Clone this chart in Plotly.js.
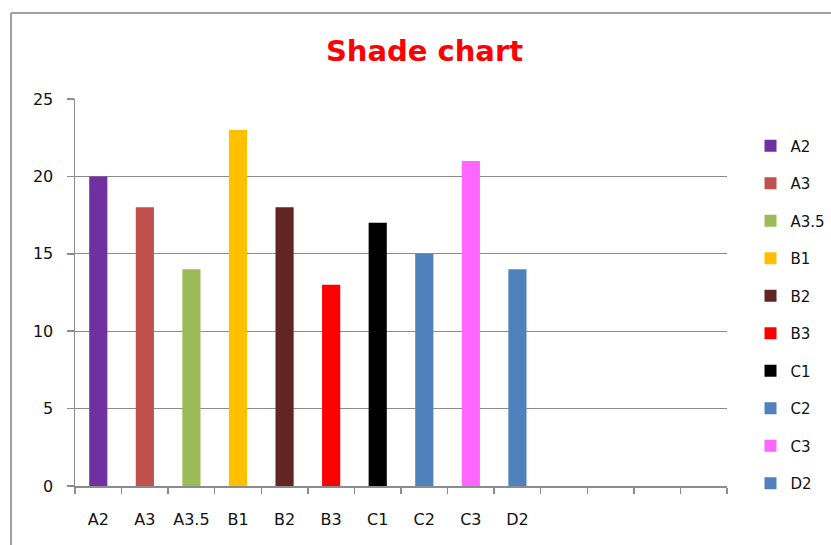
<!DOCTYPE html>
<html>
<head>
<meta charset="utf-8">
<script src="https://cdn.plot.ly/plotly-3.0.1.min.js"></script>
<style>html,body{margin:0;padding:0;background:#fff;}#chart{width:831px;height:545px;}</style>
</head>
<body>
<div id="chart"></div>
<script>
var categories = ["A2","A3","A3.5","B1","B2","B3","C1","C2","C3","D2"];
var values = [20,18,14,23,18,13,17,15,21,14];
var colors = ["#7030A0","#C0504D","#9BBB59","#FFC000","#632523","#FF0000","#000000","#4F81BD","#FF66FF","#4F81BD"];
var slotCount = 14;
var yTicks = [0,5,10,15,20,25];

var traces = categories.map(function(c, i){
  return {
    type: "bar",
    x: [i],
    y: [values[i]],
    name: c,
    legendgroup: "g" + i,
    width: 0.39,
    marker: {color: colors[i], line: {width: 0}},
    xaxis: "x",
    yaxis: "y",
    hoverinfo: "name+y"
  };
});
// invisible trace to carry category labels axis
traces.push({type: "scatter", x: [0], y: [0], xaxis: "x2", yaxis: "y", mode: "markers",
  marker: {opacity: 0}, showlegend: false, hoverinfo: "skip"});

var W = 831, H = 545, L = 75, R = 727, T = 99, B = 486;
var boundaries = [];
for (var k = 0; k <= slotCount; k++) boundaries.push(k - 0.5);
var idx = categories.map(function(c, i){ return i; });

function px(x){ return (x - L) / (R - L); }
function py(y){ return (B - y) / (B - T); }

var FONT = "DejaVu Sans, Verdana, sans-serif";

var layout = {
  width: W, height: H,
  margin: {l: L, r: W - R, t: T, b: H - B, pad: 0, autoexpand: false},
  paper_bgcolor: "#ffffff",
  plot_bgcolor: "#ffffff",
  barmode: "overlay",
  font: {family: FONT, size: 15, color: "#111111"},
  title: {text: "<b>Shade chart</b>", font: {family: FONT, size: 29, color: "#FF0000"},
    x: 424.5 / W, xanchor: "center", y: 1 - 51 / H, yanchor: "middle", xref: "container", yref: "container"},
  xaxis: {
    range: [-0.5, slotCount - 0.5],
    tickmode: "array", tickvals: boundaries, ticktext: boundaries.map(function(){return "";}),
    showticklabels: false,
    ticks: "outside", ticklen: 6, tickwidth: 1.5, tickcolor: "#8c8c8c",
    showgrid: false, zeroline: false,
    showline: true, linecolor: "#8c8c8c", linewidth: 1.5,
    fixedrange: true
  },
  xaxis2: {
    overlaying: "x",
    range: [-0.5, slotCount - 0.5],
    tickmode: "array", tickvals: idx, ticktext: categories,
    ticks: "", showgrid: false, zeroline: false, showline: false,
    side: "bottom", anchor: "y",
    ticklabelstandoff: 22,
    tickfont: {family: FONT, size: 16, color: "#111111"},
    fixedrange: true
  },
  yaxis: {
    range: [0, 25],
    tickmode: "array", tickvals: yTicks,
    ticks: "outside", ticklen: 7, tickwidth: 1.5, tickcolor: "#8c8c8c",
    ticklabelstandoff: 10,
    showgrid: true, gridcolor: "#8c8c8c", gridwidth: 1.3,
    zeroline: false,
    showline: true, linecolor: "#8c8c8c", linewidth: 1.5,
    tickfont: {family: FONT, size: 16, color: "#111111"},
    fixedrange: true
  },
  legend: {
    x: px(750.5), xanchor: "left",
    y: py(129.5), yanchor: "top",
    traceorder: "grouped",
    tracegroupgap: 15,
    font: {family: FONT, size: 15, color: "#111111"},
    bgcolor: "rgba(0,0,0,0)",
    itemclick: false, itemdoubleclick: false
  },
  shapes: [
    {type: "line", xref: "paper", yref: "paper", x0: px(11), x1: px(11), y0: py(13), y1: py(560), line: {color: "#a0a0a0", width: 2}},
    {type: "line", xref: "paper", yref: "paper", x0: px(11), x1: px(840), y0: py(13), y1: py(13), line: {color: "#a0a0a0", width: 2}}
  ],
  showlegend: true
};

Plotly.newPlot("chart", traces, layout, {displayModeBar: false, staticPlot: true});
</script>
</body>
</html>
